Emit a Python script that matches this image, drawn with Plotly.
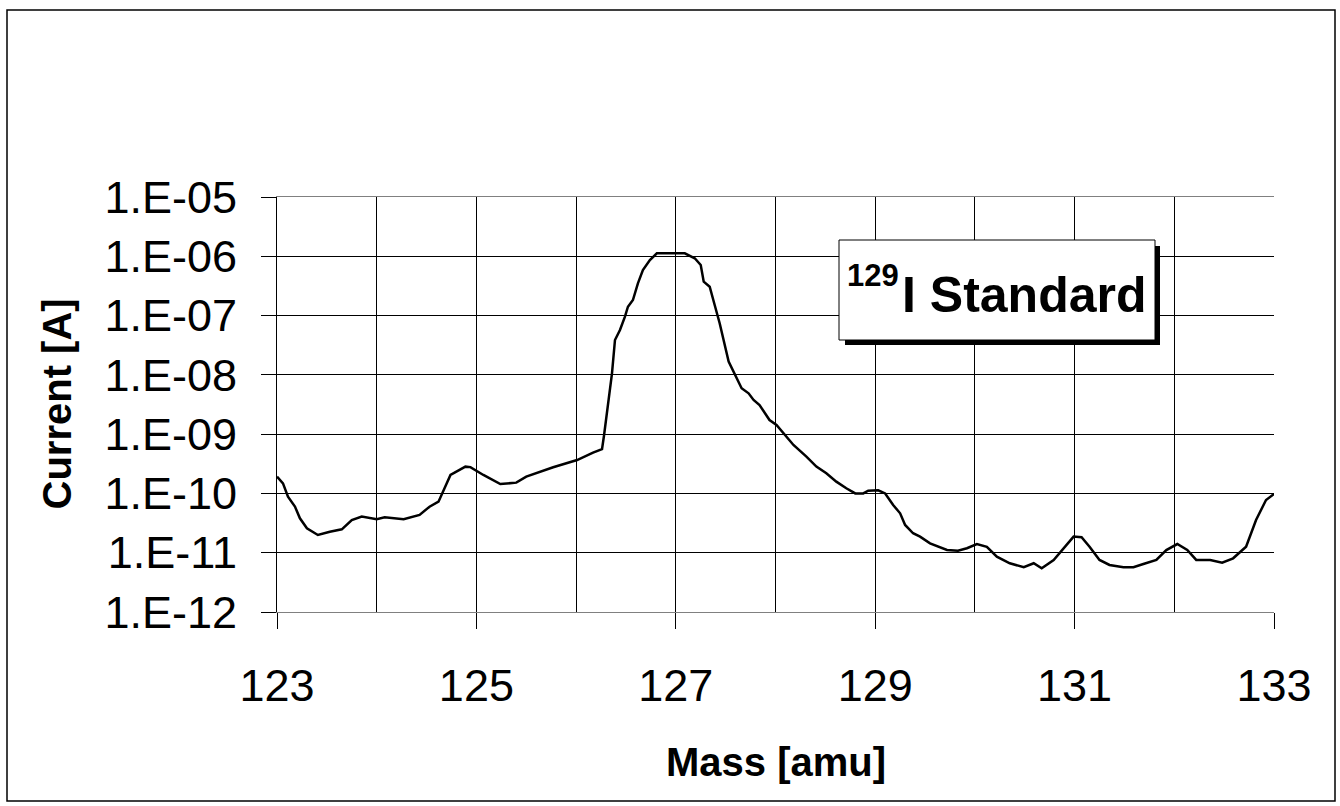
import plotly.graph_objects as go

# ---- data ----
mass = [123.00, 123.06, 123.11, 123.18, 123.23, 123.30, 123.41, 123.53, 123.65, 123.75,
        123.85, 124.00, 124.08, 124.27, 124.43, 124.53, 124.62, 124.67, 124.74, 124.89,
        124.94, 125.07, 125.24, 125.40, 125.50, 125.77, 126.01, 126.17, 126.26, 126.28,
        126.32, 126.36, 126.39, 126.44, 126.49, 126.52, 126.57, 126.62, 126.67, 126.74,
        126.81, 127.09, 127.19, 127.25, 127.28, 127.34, 127.39, 127.44, 127.53, 127.59,
        127.66, 127.73, 127.78, 127.84, 127.94, 128.01, 128.08, 128.18, 128.31, 128.41,
        128.51, 128.61, 128.71, 128.80, 128.88, 128.93, 129.03, 129.10, 129.18, 129.25,
        129.30, 129.38, 129.45, 129.55, 129.72, 129.83, 129.92, 130.02, 130.12, 130.22,
        130.35, 130.49, 130.59, 130.67, 130.79, 130.89, 130.99, 131.07, 131.15, 131.25,
        131.35, 131.49, 131.59, 131.69, 131.82, 131.92, 132.03, 132.13, 132.22, 132.36,
        132.48, 132.59, 132.72, 132.82, 132.92, 133.00]

current = [1.92e-10, 1.48e-10, 8.8e-11, 6.0e-11, 3.8e-11, 2.58e-11, 1.99e-11, 2.26e-11, 2.48e-11, 3.56e-11,
           4.06e-11, 3.66e-11, 3.96e-11, 3.66e-11, 4.33e-11, 5.98e-11, 7.26e-11, 1.14e-10, 2.05e-10, 2.83e-10,
           2.78e-10, 2.05e-10, 1.44e-10, 1.52e-10, 1.92e-10, 2.76e-10, 3.66e-10, 4.87e-10, 5.6e-10, 9.5e-10,
           2.9e-09, 1.06e-08, 3.87e-08, 5.71e-08, 9.57e-08, 1.41e-07, 1.83e-07, 3.5e-07, 5.87e-07, 8.65e-07,
           1.12e-06, 1.12e-06, 9.25e-07, 7.13e-07, 3.73e-07, 3.07e-07, 1.51e-07, 7.41e-08, 1.67e-08, 1.06e-08,
           5.94e-09, 4.89e-09, 3.77e-09, 3.1e-09, 1.73e-09, 1.43e-09, 1.04e-09, 6.56e-10, 4.17e-10, 2.83e-10,
           2.19e-10, 1.58e-10, 1.22e-10, 1.0e-10, 1.0e-10, 1.11e-10, 1.13e-10, 1.0e-10, 6.38e-11, 4.62e-11,
           2.94e-11, 2.13e-11, 1.87e-11, 1.44e-11, 1.11e-11, 1.08e-11, 1.19e-11, 1.40e-11, 1.26e-11, 8.57e-12,
           6.64e-12, 5.68e-12, 6.64e-12, 5.47e-12, 7.55e-12, 1.19e-11, 1.87e-11, 1.82e-11, 1.26e-11, 7.55e-12,
           6.21e-12, 5.68e-12, 5.68e-12, 6.46e-12, 7.55e-12, 1.11e-11, 1.40e-11, 1.11e-11, 7.55e-12, 7.55e-12,
           6.79e-12, 8.05e-12, 1.26e-11, 3.56e-11, 7.76e-11, 9.79e-11]

y_tickvals = [1e-12, 1e-11, 1e-10, 1e-9, 1e-8, 1e-7, 1e-6, 1e-5]
y_ticktext = ["1.E-12", "1.E-11", "1.E-10", "1.E-09", "1.E-08", "1.E-07", "1.E-06", "1.E-05"]

FONT = "Arial, Liberation Sans, sans-serif"

# plot-area geometry in pixels
W, H = 1340, 806
L, R, T, B = 277, 1274, 197, 612
PW, PH = R - L, B - T


def px(x):
    return (x - L) / PW


def py(y):
    return (B - y) / PH


fig = go.Figure()
fig.add_trace(go.Scatter(x=mass, y=current, mode="lines",
                         line=dict(color="black", width=2.5), showlegend=False))

fig.update_layout(
    width=W, height=H,
    margin=dict(l=L, r=W - R, t=T, b=H - B, pad=0),
    paper_bgcolor="white", plot_bgcolor="white",
    font=dict(family=FONT, color="black"),
    xaxis=dict(
        range=[123, 133], tick0=123, dtick=2,
        showgrid=True, gridcolor="black", gridwidth=1,
        minor=dict(dtick=1, tick0=123, showgrid=True, gridcolor="black", gridwidth=1, ticks=""),
        ticks="outside", ticklen=16, tickcolor="black", tickwidth=1,
        tickfont=dict(size=45, family=FONT, color="black"),
        ticklabelstandoff=18,
        showline=True, linecolor="#808080", linewidth=1, mirror=True,
        zeroline=False,
    ),
    yaxis=dict(
        type="log", range=[-12, -5],
        tickvals=y_tickvals, ticktext=y_ticktext,
        showgrid=True, gridcolor="black", gridwidth=1,
        ticks="outside", ticklen=15, tickcolor="black", tickwidth=1,
        tickfont=dict(size=45, family=FONT, color="black"),
        ticklabelstandoff=15,
        showline=True, linecolor="black", linewidth=1,
        zeroline=False,
    ),
)

shapes = [
    # outer chart frame
    dict(type="rect", xref="paper", yref="paper",
         x0=px(7), x1=px(1335), y0=py(801), y1=py(10),
         line=dict(color="black", width=1.5), fillcolor="rgba(0,0,0,0)", layer="above"),
    # label shadow
    dict(type="rect", xref="paper", yref="paper",
         x0=px(845), x1=px(1160), y0=py(345), y1=py(246),
         line=dict(width=0), fillcolor="black", layer="above"),
    # label box
    dict(type="rect", xref="paper", yref="paper",
         x0=px(839), x1=px(1155), y0=py(340), y1=py(240),
         line=dict(color="black", width=1), fillcolor="white", layer="above"),
]
fig.update_layout(shapes=shapes)

annotations = [
    dict(text="<b>Mass [amu]</b>", xref="paper", yref="paper", x=0.5, y=py(762),
         xanchor="center", yanchor="middle", showarrow=False,
         font=dict(size=40, family=FONT, color="black")),
    dict(text="<b>Current [A]</b>", xref="paper", yref="paper", x=px(56), y=0.5,
         xanchor="center", yanchor="middle", showarrow=False, textangle=-90,
         font=dict(size=40, family=FONT, color="black")),
    dict(text="<b>129</b>", xref="paper", yref="paper", x=px(845), y=py(275),
         xanchor="left", yanchor="middle", showarrow=False,
         font=dict(size=31, family=FONT, color="black")),
    dict(text="<b>I Standard</b>", xref="paper", yref="paper", x=px(900), y=py(295),
         xanchor="left", yanchor="middle", showarrow=False,
         font=dict(size=50, family=FONT, color="black")),
]
fig.update_layout(annotations=annotations)

fig.write_html("out.html")
